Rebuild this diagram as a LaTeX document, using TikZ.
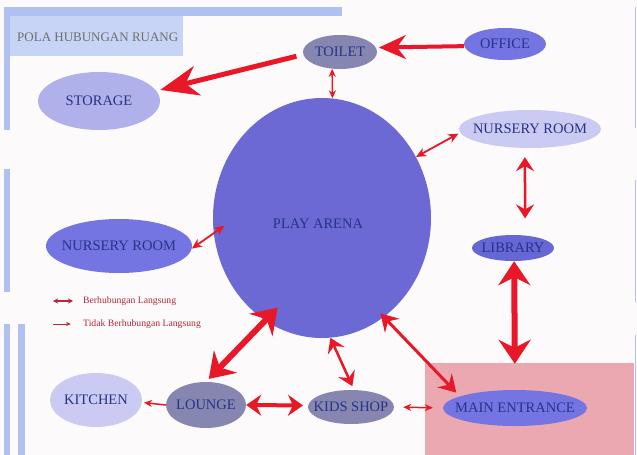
\documentclass[tikz,border=0pt]{standalone}
\usepackage{fontspec}
\setmainfont{Liberation Serif}
\usetikzlibrary{arrows.meta,shapes.geometric}
\definecolor{bgc}{RGB}{252,250,250}
\definecolor{barc}{RGB}{176,192,240}
\definecolor{titlec}{RGB}{200,212,245}
\definecolor{pinkc}{RGB}{236,168,176}
\definecolor{arrred}{RGB}{232,24,40}
\definecolor{legred}{RGB}{180,40,60}
\definecolor{navy}{RGB}{38,52,135}
\definecolor{titlegrey}{RGB}{110,110,110}
\definecolor{cplay}{RGB}{108,104,212}
\definecolor{cgrey}{RGB}{134,134,176}
\definecolor{cblue}{RGB}{116,116,226}
\definecolor{clib}{RGB}{102,102,212}
\definecolor{clight}{RGB}{176,176,234}
\definecolor{cpale}{RGB}{202,202,242}
\begin{document}
\begin{tikzpicture}[x=1pt,y=-1pt,
  room/.style={ellipse, draw=none, inner sep=0pt, text=navy, font=\fontsize{14.5}{17}\selectfont},
  roomtext/.style={text=navy, inner sep=0pt, font=\fontsize{14.5}{17}\selectfont},
  conn/.style={draw=arrred},
  tThin/.tip={Stealth[length=8pt,width=7pt,inset=2.5pt]},
  tSmall/.tip={Stealth[length=10pt,width=9pt,inset=3pt]},
  tMed/.tip={Stealth[length=14pt,width=18pt,inset=5pt]},
  tMedB/.tip={Stealth[length=17pt,width=20pt,inset=6pt]},
  tBig/.tip={Stealth[length=24pt,width=32pt,inset=8pt]},
  tOffice/.tip={Stealth[length=27pt,width=24pt,inset=9pt]},
  tStorage/.tip={Stealth[length=38pt,width=30pt,inset=12pt]},
  tLounge/.tip={Stealth[length=15pt,width=21pt,inset=5pt]},
  legtext/.style={anchor=west, inner sep=0pt, text=legred, font=\fontsize{9.7}{11}\selectfont}
]
\useasboundingbox (0,0) rectangle (637,455);
% background
\fill[bgc] (0,0) rectangle (637,455);
\fill[barc] (4,7) rectangle (342,16);
\fill[titlec] (10,16) rectangle (183,56);
\fill[barc] (4,16) rectangle (10,130);
\fill[barc] (4,169) rectangle (10,292);
\fill[barc] (4,324) rectangle (10,455);
\fill[barc] (18,324) rectangle (25,455);
\fill[pinkc] (425,363) rectangle (634,455);
\draw[barc, line width=1pt] (635.5,7) -- (635.5,128);
\draw[barc, line width=1pt] (635.5,180) -- (635.5,302);
\draw[barc, line width=1pt] (635.5,335) -- (635.5,455);
% title
\node[anchor=west, inner sep=0pt, text=titlegrey, font=\fontsize{13}{15}\selectfont] (title) at (17,37) {POLA HUBUNGAN RUANG};
% rooms
\node[room, fill=cplay, minimum width=218pt, minimum height=240pt] (play) at (322,218) {};
\node[roomtext] (playtxt) at (318,224) {PLAY ARENA};
\node[room, fill=cgrey, minimum width=74pt, minimum height=34pt] (toilet) at (340,52) {\makebox[0pt]{TOILET}};
\node[room, fill=cblue, minimum width=82pt, minimum height=32pt] (office) at (505,44) {\makebox[0pt]{OFFICE}};
\node[room, fill=clight, minimum width=122pt, minimum height=58pt] (storage) at (99,101) {\makebox[0pt]{STORAGE}};
\node[room, fill=cpale, minimum width=142pt, minimum height=38pt] (nursR) at (530,129) {\makebox[0pt]{NURSERY ROOM}};
\node[room, fill=cblue, minimum width=146pt, minimum height=54pt] (nursL) at (119,246) {\makebox[0pt]{NURSERY ROOM}};
\node[room, fill=clib, minimum width=82pt, minimum height=26pt] (library) at (513,248) {\makebox[0pt]{LIBRARY}};
\node[room, fill=cpale, minimum width=92pt, minimum height=54pt] (kitchen) at (96,400) {\makebox[0pt]{KITCHEN}};
\node[room, fill=cgrey, minimum width=80pt, minimum height=46pt] (lounge) at (206,405) {\makebox[0pt]{LOUNGE}};
\node[room, fill=cgrey, minimum width=86pt, minimum height=34pt] (kids) at (351,407) {\makebox[0pt]{KIDS SHOP}};
\node[room, fill=cblue, minimum width=144pt, minimum height=36pt] (main) at (515,408) {\makebox[0pt]{MAIN ENTRANCE}};
% connectors
\draw[conn, line width=4pt, -{tOffice}, shorten >=3pt] (office.183) -- (toilet.7);
\draw[conn, line width=5pt, -{tStorage}, shorten <=7pt, shorten >=4pt] (toilet.184) -- (storage.10);
\draw[conn, line width=1.5pt, {tThin}-{tThin}] (toilet.245) -- (play.85);
\draw[conn, line width=1.8pt, {tSmall}-{tSmall}, shorten >=2pt] (play.33) -- (nursR.183);
\draw[conn, line width=2.5pt, {tMed}-{tMed}, shorten <=9pt, shorten >=17pt] (nursR.255) -- (library.46);
\draw[conn, line width=6pt, {tBig}-{tBig}, shorten >=26pt] (library.-85) -- (main.90);
\draw[conn, line width=1.8pt, {tSmall}-{tSmall}, shorten >=-13pt] (nursL.-2) -- (play.188);
\draw[conn, line width=6pt, {tBig}-{tBig}, shorten <=-18pt, shorten >=4pt] (play.241) -- (lounge.90);
\draw[conn, line width=2.5pt, {tMed}-{tMed}, shorten >=4pt] (play.-86) -- (kids.80);
\draw[conn, line width=3pt, {tMedB}-{tMedB}, shorten <=-5pt, shorten >=5pt] (play.-58) -- (main.168);
\draw[conn, line width=1.5pt, -{tThin}, shorten >=2pt] (lounge.180) -- (kitchen.-3);
\draw[conn, line width=4pt, {tLounge}-{tLounge}, shorten >=5pt] (lounge.0) -- (kids.178);
\draw[conn, line width=1.5pt, {tThin}-{tThin}, shorten <=9pt, shorten >=10pt] (kids.0) -- (main.180);
% legend
\coordinate (lg1a) at (53,301);
\coordinate (lg1b) at (73,301);
\coordinate (lg2a) at (53,324);
\coordinate (lg2b) at (71,324);
\draw[draw=legred, line width=1.2pt, {Stealth[length=5pt,width=5pt,inset=1.5pt]}-{Stealth[length=5pt,width=5pt,inset=1.5pt]}] (lg1a) -- (lg1b);
\draw[draw=legred, line width=1pt, -{Stealth[length=5pt,width=4pt,inset=1.5pt]}] (lg2a) -- (lg2b);
\node[legtext] (leg1) at (83,301) {Berhubungan Langsung};
\node[legtext] (leg2) at (83,324) {Tidak Berhubungan Langsung};
\end{tikzpicture}
\end{document}
